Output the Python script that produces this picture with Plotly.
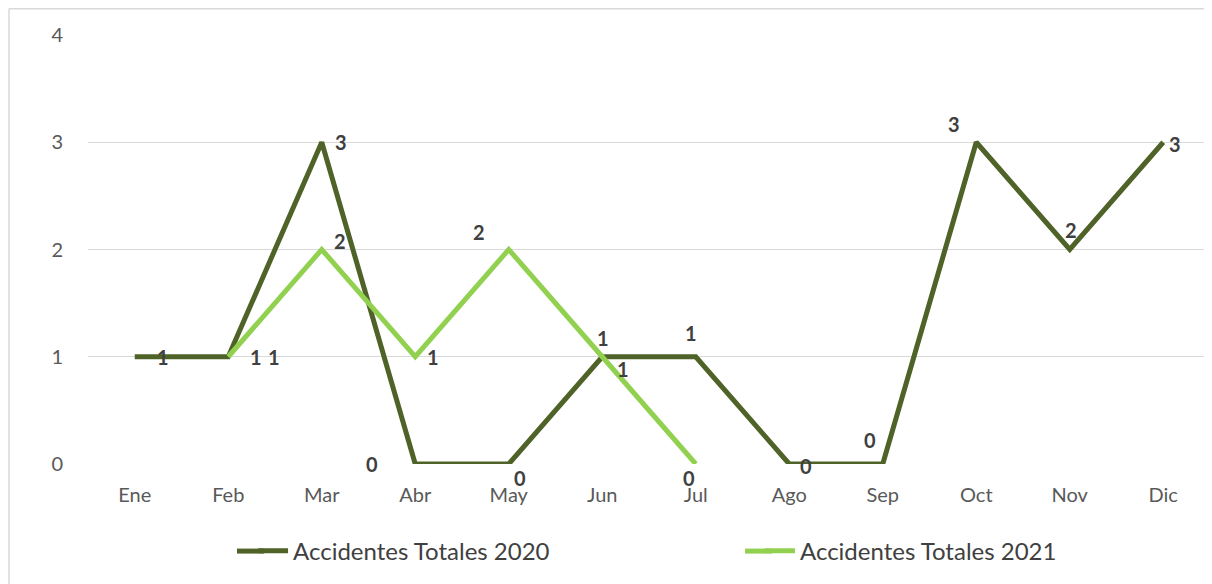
import plotly.graph_objects as go

months = ["Ene", "Feb", "Mar", "Abr", "May", "Jun", "Jul", "Ago", "Sep", "Oct", "Nov", "Dic"]
acc_2020 = [1, 1, 3, 0, 0, 1, 1, 0, 0, 3, 2, 3]
acc_2021 = [None, 1, 2, 1, 2, 1, 0, None, None, None, None, None]
y_ticks = [0, 1, 2, 3, 4]

name_2020 = "Accidentes Totales 2020"
name_2021 = "Accidentes Totales 2021"

# label offsets (pixels) mimicking the manual label placement
off_2020 = [(28, 0), (28, 0), (19, 0), (-43, 0), (11, -14), (1, 19), (-5, 24),
            (17, -2), (-13, 24), (-22, 18), (1, 20), (12, -2)]
off_2021 = [None, (46, 0), (18, 9), (18, 0), (-30, 18), (21, -12), (-7, -14),
            None, None, None, None, None]

C2020 = "#4F6228"
C2021 = "#92D050"
FONT = "Lato"
LEG_Y = -0.203

fig = go.Figure()
fig.add_trace(go.Scatter(x=months, y=acc_2020, mode="lines", name=name_2020,
                         line=dict(color=C2020, width=5), legend="legend"))
fig.add_trace(go.Scatter(x=months, y=acc_2021, mode="lines", name=name_2021,
                         line=dict(color=C2021, width=5), legend="legend2"))

for vals, offs in ((acc_2020, off_2020), (acc_2021, off_2021)):
    for m, v, o in zip(months, vals, offs):
        if v is None:
            continue
        fig.add_annotation(x=m, y=v, text=str(v), showarrow=False,
                           xshift=o[0], yshift=o[1],
                           font=dict(family=FONT, size=20, color="#404040", weight="bold"))

# chart border (top and left visible)
fig.add_shape(type="line", xref="paper", yref="paper", x0=-0.0704, x1=1.02, y0=1.061, y1=1.061,
              line=dict(color="#D9D9D9", width=1.5))
fig.add_shape(type="line", xref="paper", yref="paper", x0=-0.0704, x1=-0.0704, y0=1.061, y1=-0.3,
              line=dict(color="#D9D9D9", width=1.5))

# longer legend keys (Excel-style)
for c, x0, x1 in ((C2020, 0.1328, 0.157), (C2021, 0.5856, 0.6095)):
    fig.add_shape(type="line", xref="paper", yref="paper", x0=x0, x1=x1, y0=LEG_Y, y1=LEG_Y,
                  line=dict(color=c, width=5))

leg_common = dict(orientation="h", xanchor="left", y=LEG_Y, yanchor="middle",
                  font=dict(family=FONT, size=24, color="#404040"),
                  bgcolor="rgba(0,0,0,0)")

fig.update_layout(
    width=1204, height=576,
    margin=dict(l=80, r=2, t=27, b=120),
    paper_bgcolor="white", plot_bgcolor="white",
    font=dict(family=FONT, size=20, color="#595959"),
    showlegend=True,
    legend=dict(x=0.1471, **leg_common),
    legend2=dict(x=0.5989, **leg_common),
    xaxis=dict(type="category", range=[-0.5, 11.5], showgrid=False, zeroline=False,
               showline=False, ticks="", ticklabelstandoff=17,
               tickfont=dict(family=FONT, size=20, color="#595959")),
    yaxis=dict(range=[0, 4], tickvals=y_ticks, showgrid=True, gridcolor="#D9D9D9",
               gridwidth=1, zeroline=False, showline=False, ticks="",
               ticklabelstandoff=24,
               tickfont=dict(family=FONT, size=20, color="#595959")),
)

fig.write_html("out.html")
